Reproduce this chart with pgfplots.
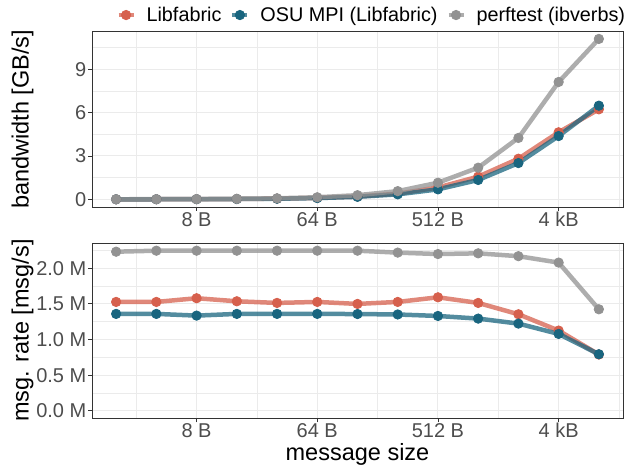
\documentclass[border=0pt]{standalone}
\usepackage{fontspec}
\setmainfont{Liberation Sans}
\usepackage{pgfplots}
\usepackage{pgfplotstable}
\pgfplotsset{compat=1.18}

\definecolor{libf}{HTML}{D6604D}
\definecolor{osu}{HTML}{19657F}
\definecolor{perf}{HTML}{929292}
\definecolor{gridc}{HTML}{EBEBEB}
\definecolor{borderc}{HTML}{333333}
\definecolor{labc}{HTML}{4D4D4D}

% x = log2(message size in bytes)
\pgfplotstableread{
x lib osu perf
1 0.0031 0.0027 0.0045
2 0.0061 0.0054 0.0090
3 0.0126 0.0107 0.0180
4 0.0246 0.0218 0.0360
5 0.0484 0.0435 0.0719
6 0.0978 0.0870 0.1438
7 0.1920 0.1740 0.2876
8 0.3910 0.3460 0.5670
9 0.8200 0.6900 1.1500
10 1.5700 1.3400 2.1900
11 2.8100 2.5100 4.2500
12 4.6400 4.3800 8.1200
13 6.2300 6.4800 11.1000
}\bwtable

\pgfplotstableread{
x lib osu perf
1 1.528 1.360 2.233
2 1.528 1.360 2.247
3 1.580 1.336 2.247
4 1.537 1.360 2.247
5 1.514 1.360 2.247
6 1.528 1.360 2.247
7 1.500 1.358 2.247
8 1.528 1.352 2.220
9 1.593 1.331 2.200
10 1.514 1.294 2.210
11 1.355 1.224 2.170
12 1.126 1.079 2.080
13 0.790 0.794 1.425
}\ratetable

\pgfplotsset{
  panel/.style={
    scale only axis, width=531bp, height=175.3bp,
    xmin=0.4, xmax=13.6,
    xtick={3,6,9,12}, xticklabels={8 B,64 B,512 B,4 kB},
    minor xtick={1.5,4.5,7.5,10.5,13.5},
    grid=both,
    major grid style={draw=gridc, line width=1bp},
    minor grid style={draw=gridc, line width=0.55bp},
    axis line style={draw=borderc, line width=0.9bp},
    tick align=outside, xtick pos=lower, ytick pos=left,
    major tick length=4bp, minor tick length=0pt,
    major tick style={draw=borderc, line width=0.9bp},
    minor tick style={draw=none},
    /pgf/number format/assume math mode=true,
    tick label style={text=labc, font=\fontsize{20bp}{23bp}\selectfont},
    yticklabel style={inner xsep=1.5bp},
    xticklabel style={inner ysep=1bp},
    label style={font=\fontsize{23.5bp}{27bp}\selectfont, text=black},
    ylabel style={at={(axis description cs:-0.131,0.5)}, anchor=center},
  },
  pts/.style={only marks, color=#1, mark=*, mark size=4.7bp, line width=0.8bp, mark options={draw=#1, fill=#1}, forget plot},
  lns/.style={no marks, draw=#1, line width=4.5bp, draw opacity=0.75, forget plot},
  leg/.style={draw=#1, draw opacity=0.75, line width=4bp, mark=*, mark size=4.7bp, mark options={line width=0.8bp, draw=#1, draw opacity=1, fill=#1}},
}

\begin{document}
\begin{tikzpicture}
\path[use as bounding box] (0,0) rectangle (626bp,468bp);

\begin{axis}[panel,
  at={(92bp,436.3bp)}, anchor=north west,
  ymin=-0.53, ymax=11.6,
  ytick={0,3,6,9}, yticklabels={0,3,6,9},
  minor ytick={1.5,4.5,7.5,10.5},
  ylabel={bandwidth [GB/s]},
  legend columns=3,
  legend cell align=left,
  legend style={at={(axis description cs:0.527,1.095)}, anchor=center,
    draw=none, fill=none, font=\fontsize{19.8bp}{23bp}\selectfont,
    /tikz/every odd column/.append style={column sep=9bp},
    /tikz/every even column/.append style={column sep=7bp}},
  legend image code/.code={\draw[#1, mark repeat=2, mark phase=2] plot coordinates {(0bp,0bp) (7.5bp,0bp) (15bp,0bp)};},
]
\addplot[pts=libf] table[x=x, y=lib] {\bwtable};
\addplot[pts=osu] table[x=x, y=osu] {\bwtable};
\addplot[pts=perf] table[x=x, y=perf] {\bwtable};
\addplot[lns=libf] table[x=x, y=lib] {\bwtable};
\addplot[lns=osu] table[x=x, y=osu] {\bwtable};
\addplot[lns=perf] table[x=x, y=perf] {\bwtable};
\addlegendimage{leg=libf}
\addlegendentry{Libfabric}
\addlegendimage{leg=osu}
\addlegendentry{OSU MPI (Libfabric)}
\addlegendimage{leg=perf}
\addlegendentry{perftest (ibverbs)}
\end{axis}

\begin{axis}[panel,
  at={(92bp,225bp)}, anchor=north west,
  ymin=-0.105, ymax=2.355,
  ytick={0,0.5,1,1.5,2}, yticklabels={0.0 M,0.5 M,1.0 M,1.5 M,2.0 M},
  minor ytick={0.25,0.75,1.25,1.75,2.25},
  ylabel={msg. rate [msg/s]},
  xlabel={message size},
  xlabel style={at={(axis description cs:0.5,-0.243)}, anchor=base, inner sep=0pt},
]
\addplot[pts=libf] table[x=x, y=lib] {\ratetable};
\addplot[pts=osu] table[x=x, y=osu] {\ratetable};
\addplot[pts=perf] table[x=x, y=perf] {\ratetable};
\addplot[lns=libf] table[x=x, y=lib] {\ratetable};
\addplot[lns=osu] table[x=x, y=osu] {\ratetable};
\addplot[lns=perf] table[x=x, y=perf] {\ratetable};
\end{axis}
\end{tikzpicture}
\end{document}
